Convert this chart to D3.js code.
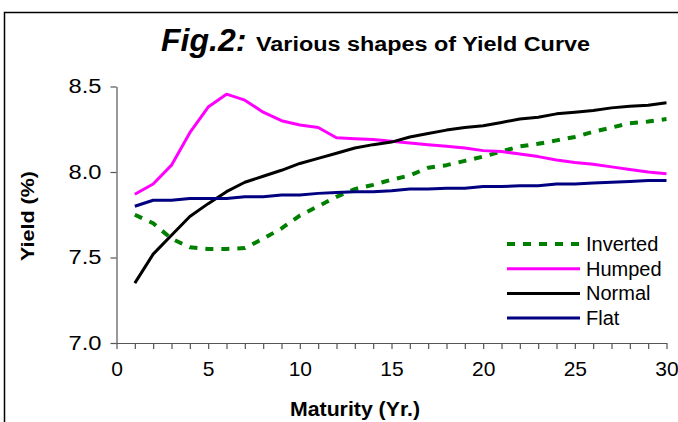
<!DOCTYPE html>
<html>
<head>
<meta charset="utf-8">
<script src="https://cdn.jsdelivr.net/npm/d3@7"></script>
<style>
  body { margin: 0; background: #fff; }
  svg { display: block; font-family: Arial, "Liberation Sans", sans-serif; }
</style>
</head>
<body>
<svg id="chart" width="678" height="422"></svg>
<script>
// Maturity in years
const maturity = [1, 2, 3, 4, 5, 6, 7, 8, 9, 10, 11, 12, 13, 14, 15,
  16, 17, 18, 19, 20, 21, 22, 23, 24, 25, 26, 27, 28, 29, 30];

// Yield (%) per curve shape
const inverted = [7.75, 7.70, 7.61, 7.56, 7.55, 7.55, 7.555, 7.61, 7.67, 7.745,
  7.80, 7.855, 7.90, 7.925, 7.955, 7.98, 8.025, 8.04, 8.065, 8.09,
  8.12, 8.15, 8.165, 8.185, 8.205, 8.235, 8.26, 8.285, 8.295, 8.31];
const humped = [7.87, 7.93, 8.04, 8.23, 8.38, 8.455, 8.42, 8.35, 8.30, 8.275,
  8.26, 8.20, 8.195, 8.19, 8.18, 8.17, 8.16, 8.15, 8.14, 8.125,
  8.12, 8.105, 8.09, 8.07, 8.055, 8.045, 8.03, 8.015, 8.00, 7.99];
const normal = [7.35, 7.52, 7.63, 7.74, 7.815, 7.885, 7.94, 7.975, 8.01, 8.05,
  8.08, 8.11, 8.14, 8.16, 8.175, 8.205, 8.225, 8.245, 8.26, 8.27,
  8.29, 8.31, 8.32, 8.34, 8.35, 8.36, 8.375, 8.385, 8.39, 8.405];
const flat = [7.80, 7.835, 7.835, 7.845, 7.845, 7.845, 7.855, 7.855, 7.865, 7.865,
  7.875, 7.88, 7.885, 7.885, 7.89, 7.90, 7.90, 7.905, 7.905, 7.915,
  7.915, 7.92, 7.92, 7.93, 7.93, 7.935, 7.94, 7.945, 7.95, 7.95];

const seriesNames = ["Inverted", "Humped", "Normal", "Flat"];
const seriesValues = [inverted, humped, normal, flat];

const xTicks = [0, 1, 2, 3, 4, 5, 6, 7, 8, 9, 10, 11, 12, 13, 14, 15,
  16, 17, 18, 19, 20, 21, 22, 23, 24, 25, 26, 27, 28, 29, 30];
const xTickLabels = [0, 5, 10, 15, 20, 25, 30];
const yTicks = [7.0, 7.5, 8.0, 8.5];

const styles = {
  Inverted: { color: "#008000", width: 4, dash: "8,8" },
  Humped: { color: "#ff00ff", width: 3, dash: null },
  Normal: { color: "#000000", width: 3, dash: null },
  Flat: { color: "#000080", width: 3, dash: null }
};

const svg = d3.select("#chart");

// cadre du graphique (coupé à droite et en bas)
svg.append("rect")
  .attr("x", 4.5).attr("y", 12.5)
  .attr("width", 720).attr("height", 480)
  .attr("fill", "none").attr("stroke", "#000").attr("stroke-width", 1.5);

const x = d3.scaleLinear().domain([0, 30]).range([116.5, 666.5]);
const y = d3.scaleLinear().domain([7.0, 8.5]).range([343, 86.5]);

// axe Y
const yAxis = svg.append("g")
  .attr("transform", `translate(${x(0)},0)`)
  .call(d3.axisLeft(y).tickValues(yTicks).tickSize(6).tickSizeOuter(0)
    .tickFormat(d3.format(".1f")));

// axe X
const xAxis = svg.append("g")
  .attr("transform", `translate(0,${y(7.0)})`)
  .call(d3.axisBottom(x).tickValues(xTicks).tickSize(6).tickSizeOuter(0)
    .tickFormat((d) => (xTickLabels.includes(d) ? d : "")));

[yAxis, xAxis].forEach((ax) => {
  ax.select(".domain").attr("stroke", "#555").attr("stroke-width", 1.2);
  ax.selectAll(".tick line").attr("stroke", "#555").attr("stroke-width", 1.2);
  ax.selectAll(".tick text")
    .attr("fill", "#000")
    .style("font-family", "Arial, 'Liberation Sans', sans-serif");
});
yAxis.selectAll(".tick text")
  .attr("x", -15)
  .style("font-size", "20px")
  .attr("textLength", 33).attr("lengthAdjust", "spacingAndGlyphs");
xAxis.selectAll(".tick text")
  .attr("y", 18)
  .style("font-size", "21px");

// courbes
const line = d3.line()
  .x((d) => x(d[0]))
  .y((d) => y(d[1]));

seriesNames.forEach((name, i) => {
  const st = styles[name];
  svg.append("path")
    .datum(maturity.map((m, j) => [m, seriesValues[i][j]]))
    .attr("d", line)
    .attr("fill", "none")
    .attr("stroke", st.color)
    .attr("stroke-width", st.width)
    .attr("stroke-linejoin", "round")
    .attr("stroke-dasharray", st.dash);
});

// légende
const legend = svg.append("g").attr("transform", "translate(507,244)");
seriesNames.forEach((name, i) => {
  const st = styles[name];
  const row = legend.append("g").attr("transform", `translate(0,${i * 24.7})`);
  row.append("line")
    .attr("x1", 0).attr("x2", 73)
    .attr("stroke", st.color)
    .attr("stroke-width", st.width)
    .attr("stroke-dasharray", st.dash);
  row.append("text")
    .attr("x", 79).attr("y", 7)
    .style("font-size", "20px")
    .text(name);
});

// titre
svg.append("text")
  .attr("x", 161).attr("y", 51)
  .style("font-size", "32px").style("font-weight", "bold").style("font-style", "italic")
  .text("Fig.2:");
svg.append("text")
  .attr("x", 256).attr("y", 51)
  .style("font-size", "20px").style("font-weight", "bold")
  .attr("textLength", 334).attr("lengthAdjust", "spacingAndGlyphs")
  .text("Various shapes of Yield Curve");

// titres des axes
svg.append("text")
  .attr("x", 355).attr("y", 416)
  .attr("text-anchor", "middle")
  .style("font-size", "20px").style("font-weight", "bold")
  .attr("textLength", 130).attr("lengthAdjust", "spacingAndGlyphs")
  .text("Maturity (Yr.)");
svg.append("text")
  .attr("transform", "translate(34,216) rotate(-90)")
  .attr("text-anchor", "middle")
  .style("font-size", "19px").style("font-weight", "bold")
  .attr("textLength", 90).attr("lengthAdjust", "spacingAndGlyphs")
  .text("Yield (%)");
</script>
</body>
</html>
